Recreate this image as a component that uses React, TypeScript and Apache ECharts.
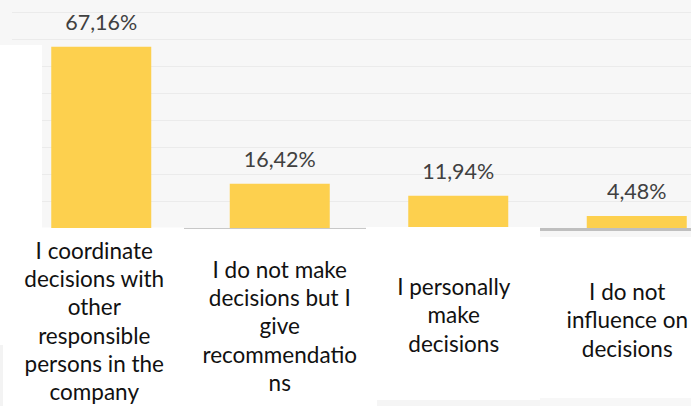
import React, { useEffect, useRef } from "react";
import * as echarts from "echarts";

const categories: string[] = [
  "I coordinate\ndecisions with\nother\nresponsible\npersons in the\ncompany",
  "I do not make\ndecisions but I\ngive\nrecommendatio\nns",
  "I personally\nmake\ndecisions",
  "I do not\ninfluence on\ndecisions",
];
const shares: number[] = [67.16, 16.42, 11.94, 4.48];
const valueTicks: number[] = [0, 80, 10]; // min, max, interval

const FONT = 'Lato, "Open Sans", sans-serif';
const labelPadding: number[][] = [
  [0, 14, 0, 0],
  [19, 0, 0, 0],
  [36.5, 9, 0, 0],
  [41.5, 19, 0, 0],
];

export default function App() {
  const ref = useRef<HTMLDivElement>(null);
  useEffect(() => {
    const chart = echarts.init(ref.current!, null, { renderer: "svg" });
    chart.setOption({
      animation: false,
      backgroundColor: "#FFFFFF",
      grid: { left: 12, top: 12, width: 714, height: 216, containLabel: false, outerBoundsMode: "none" },
      xAxis: {
        type: "category",
        data: categories.map((c, i) => ({ value: c, textStyle: { padding: labelPadding[i] } })),
        axisLine: { show: false },
        axisTick: { show: false },
        splitLine: { show: false },
        axisLabel: {
          interval: 0,
          margin: 8,
          align: "center",
          verticalAlign: "top",
          hideOverlap: false,
          fontFamily: FONT,
          fontSize: 22.5,
          lineHeight: 28.3,
          color: "#111111",
        },
      },
      yAxis: {
        type: "value",
        min: valueTicks[0],
        max: valueTicks[1],
        interval: valueTicks[2],
        axisLabel: { show: false },
        axisLine: { show: false },
        axisTick: { show: false },
        splitLine: { show: true, lineStyle: { color: "#EBEBEB", width: 1 } },
      },
      series: [
        {
          type: "bar",
          data: shares,
          barWidth: 100,
          itemStyle: { color: "#FDD04E" },
          label: {
            show: true,
            position: "top",
            distance: 14,
            fontFamily: FONT,
            fontSize: 21.5,
            color: "#404040",
            formatter: (p: any) => Number(p.value).toFixed(2).replace(".", ",") + "%",
          },
        },
      ],
      graphic: [
        { type: "rect", silent: true, z: -10, shape: { x: 0, y: 0, width: 691, height: 228 }, style: { fill: "#F7F7F7" } },
        { type: "rect", silent: true, z: 1, shape: { x: 0, y: 45, width: 42, height: 184 }, style: { fill: "#FFFFFF" } },
        { type: "rect", silent: true, z: 1, shape: { x: 42, y: 227.6, width: 142, height: 2 }, style: { fill: "#FFFFFF" } },
        { type: "rect", silent: true, z: 3, shape: { x: 366, y: 227, width: 174, height: 5 }, style: { fill: "#FFFFFF" } },
        { type: "rect", silent: true, z: 1, shape: { x: 540, y: 231, width: 151, height: 6 }, style: { fill: "#F6F6F6" } },
        { type: "rect", silent: true, z: 1, shape: { x: 377, y: 400, width: 163, height: 6 }, style: { fill: "#F5F5F5" } },
        { type: "rect", silent: true, z: 1, shape: { x: 540, y: 398, width: 151, height: 8 }, style: { fill: "#F7F7F7" } },
        { type: "rect", silent: true, z: 1, shape: { x: 0, y: 345, width: 3, height: 61 }, style: { fill: "#F3F3F3" } },
        { type: "line", silent: true, z: 3, shape: { x1: 184, y1: 228.5, x2: 366, y2: 228.5 }, style: { stroke: "#C8C8C8", lineWidth: 1 } },
        { type: "line", silent: true, z: 3, shape: { x1: 540, y1: 229.5, x2: 691, y2: 229.5 }, style: { stroke: "#BFBFBF", lineWidth: 3 } },
      ],
    });
    return () => chart.dispose();
  }, []);
  return <div ref={ref} style={{ position: "absolute", left: 0, top: 0, width: 691, height: 406 }} />;
}
